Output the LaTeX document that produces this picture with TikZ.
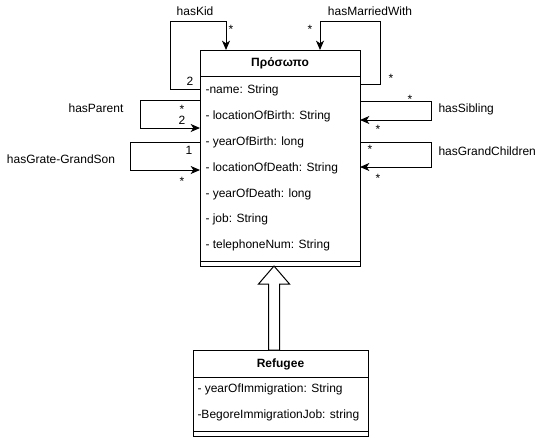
\documentclass[tikz,border=0pt]{standalone}
\usepackage{fontspec}
\setmainfont{Liberation Sans}
\usetikzlibrary{arrows.meta}

\begin{document}
\begin{tikzpicture}[x=0.75pt, y=-0.75pt, line width=0.75pt,
  font=\fontsize{9}{11}\selectfont,
  classbox/.style={draw, fill=white, inner sep=0pt, outer sep=0pt, anchor=north west},
  title/.style={font=\fontsize{9}{11}\selectfont\bfseries, inner sep=0pt},
  attr/.style={anchor=west, inner sep=0pt},
  lbl/.style={inner sep=0pt},
  assoc/.style={-{Stealth[length=7pt, width=6pt, inset=2pt]}},
  genarrow/.style={draw, fill=white, line join=miter}]

\useasboundingbox (0,0) rectangle (541,437);

% class Πρόσωπο
\node[classbox, minimum width=120pt, minimum height=162pt] (person) at (200,50) {};
\draw (person.north west) ++(0,26) -- ++(160,0);
\draw (person.south west) ++(0,-4.5) -- ++(160,0);
\node[title] (personTitle) at (280,63) {Πρόσωπο};
\node[attr] (aName)  at (205,90)  {-name: String};
\node[attr] (aLocB)  at (205,116) {- locationOfBirth: String};
\node[attr] (aYearB) at (205,142) {- yearOfBirth: long};
\node[attr] (aLocD)  at (205,168) {- locationOfDeath: String};
\node[attr] (aYearD) at (205,194) {- yearOfDeath: long};
\node[attr] (aJob)   at (205,219) {- job: String};
\node[attr] (aTel)   at (205,245) {- telephoneNum: String};

% class Refugee
\node[classbox, minimum width=131.25pt, minimum height=64.5pt] (refugee) at (193,350) {};
\draw (refugee.north west) ++(0,27) -- ++(175,0);
\draw (refugee.south west) ++(0,-4.5) -- ++(175,0);
\node[title] (refugeeTitle) at (280.5,364) {Refugee};
\node[attr] (rYear) at (197,389) {- yearOfImmigration: String};
\node[attr] (rJob)  at (197,415) {-BegoreImmigrationJob: string};

% generalisation Refugee -> Πρόσωπο
\draw[genarrow] (person.south -| 274,0) -- (258.5,284) -- (268.5,284)
  -- (refugee.north -| 268.5,0) -- (refugee.north -| 279.5,0)
  -- (279.5,284) -- (289.5,284) -- cycle;

% self associations
\draw[assoc] (person.west |- 0,89) -| (170,21) -| (person.north -| 226,0);
\node[lbl] (kidName) at (195,11) {hasKid};
\node[lbl] (kidM1) at (190,81) {2};
\node[lbl] (kidM2) at (231,29) {*};

\draw[assoc] (person.east |- 0,84) -| (380,21) -| (person.north -| 320,0);
\node[lbl] (marName) at (370,11) {hasMarriedWith};
\node[lbl] (marM1) at (310,29) {*};
\node[lbl] (marM2) at (391,78) {*};

\draw[assoc] (person.west |- 0,100) -| (140,128) -- (person.west |- 0,128);
\node[lbl] (parName) at (96,108) {hasParent};
\node[lbl] (parM1) at (182,109) {*};
\node[lbl] (parM2) at (182,120) {2};

\draw[assoc] (person.west |- 0,142) -| (130,170) -- (person.west |- 0,170);
\node[lbl] (ggsName) at (61,159) {hasGrate-GrandSon};
\node[lbl] (ggsM1) at (189,150) {1};
\node[lbl] (ggsM2) at (182,181) {*};

\draw[assoc] (person.east |- 0,101) -| (431,120) -- (person.east |- 0,120);
\node[lbl, anchor=west] (sibName) at (438,109) {hasSibling};
\node[lbl] (sibM1) at (410,99) {*};
\node[lbl] (sibM2) at (378,129) {*};

\draw[assoc] (person.east |- 0,142) -| (431,167) -- (person.east |- 0,167);
\node[lbl, anchor=west] (gcName) at (438,151) {hasGrandChildren};
\node[lbl] (gcM1) at (370,149) {*};
\node[lbl] (gcM2) at (378,178) {*};

\end{tikzpicture}
\end{document}
